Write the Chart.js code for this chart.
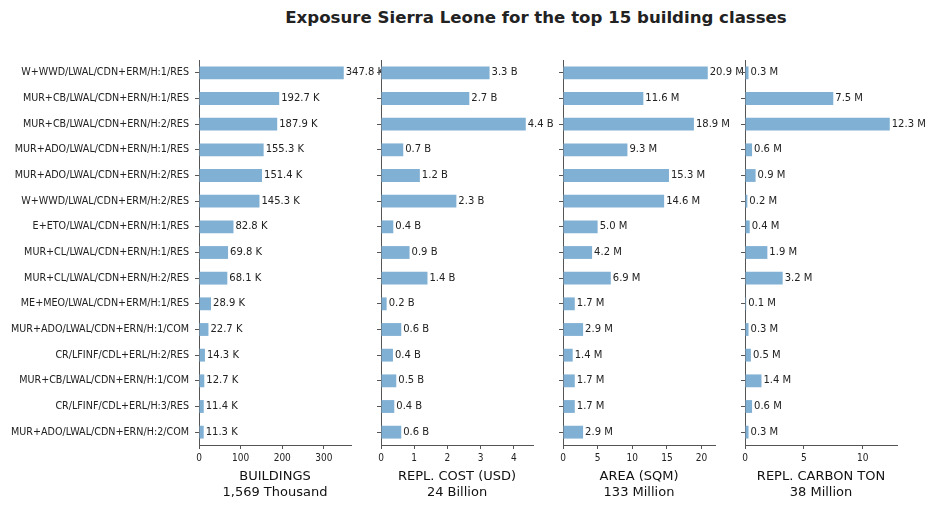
<!DOCTYPE html>
<html>
<head>
<meta charset="utf-8">
<script src="https://cdn.jsdelivr.net/npm/chart.js@4.4.1/dist/chart.umd.min.js"></script>
<style>
  body { margin: 0; background: #fff; }
  #wrap { position: relative; width: 933px; height: 510px; overflow: hidden; }
  #wrap canvas { position: absolute; left: 0; top: 0; }
  #titulo { position: absolute; top: 8px; left: 236px; width: 600px; text-align: center;
            font: bold 16.6px "DejaVu Sans", sans-serif; color: #222; white-space: nowrap; }
</style>
</head>
<body>
<div id="wrap">
  <div id="titulo">Exposure Sierra Leone for the top 15 building classes</div>
</div>
<script>
const classes = [
  "W+WWD/LWAL/CDN+ERM/H:1/RES",
  "MUR+CB/LWAL/CDN+ERN/H:1/RES",
  "MUR+CB/LWAL/CDN+ERN/H:2/RES",
  "MUR+ADO/LWAL/CDN+ERN/H:1/RES",
  "MUR+ADO/LWAL/CDN+ERN/H:2/RES",
  "W+WWD/LWAL/CDN+ERM/H:2/RES",
  "E+ETO/LWAL/CDN+ERN/H:1/RES",
  "MUR+CL/LWAL/CDN+ERN/H:1/RES",
  "MUR+CL/LWAL/CDN+ERN/H:2/RES",
  "ME+MEO/LWAL/CDN+ERM/H:1/RES",
  "MUR+ADO/LWAL/CDN+ERN/H:1/COM",
  "CR/LFINF/CDL+ERL/H:2/RES",
  "MUR+CB/LWAL/CDN+ERN/H:1/COM",
  "CR/LFINF/CDL+ERL/H:3/RES",
  "MUR+ADO/LWAL/CDN+ERN/H:2/COM"
];

// milhares de edificios
const buildings = [347.8, 192.7, 187.9, 155.3, 151.4, 145.3, 82.8, 69.8, 68.1, 28.9, 22.7, 14.3, 12.7, 11.4, 11.3];
// bilhoes de USD
const cost = [3.27, 2.66, 4.36, 0.67, 1.17, 2.27, 0.37, 0.86, 1.40, 0.17, 0.61, 0.36, 0.46, 0.40, 0.61];
// milhoes de m2
const area = [20.9, 11.6, 18.9, 9.3, 15.3, 14.6, 5.0, 4.2, 6.9, 1.7, 2.9, 1.4, 1.7, 1.7, 2.9];
// milhoes de toneladas
const carbon = [0.3, 7.5, 12.3, 0.6, 0.9, 0.2, 0.4, 1.9, 3.2, 0.1, 0.3, 0.5, 1.4, 0.6, 0.3];

const buildingTicks = [0, 100, 200, 300];
const costTicks = [0, 1, 2, 3, 4];
const areaTicks = [0, 5, 10, 15, 20];
const carbonTicks = [0, 5, 10];

const titulos = [
  ["BUILDINGS", "1,569 Thousand"],
  ["REPL. COST (USD)", "24 Billion"],
  ["AREA (SQM)", "133 Million"],
  ["REPL. CARBON TON", "38 Million"]
];
const unidades = ["K", "B", "M", "M"];

const corBarra = "#80b0d4";
const corEixo = "#555";
const corTexto = "#222";
const fonteTick = '"DejaVu Sans Condensed", "Liberation Sans Narrow", "DejaVu Sans", sans-serif';

const rotulos = {
  id: "rotulos",
  afterDatasetsDraw(chart, args, opts) {
    const ctx = chart.ctx;
    const meta = chart.getDatasetMeta(0);
    const valores = chart.data.datasets[0].data;
    ctx.save();
    ctx.font = '10px "DejaVu Sans", sans-serif';
    ctx.fillStyle = corTexto;
    ctx.textBaseline = "middle";
    ctx.textAlign = "left";
    meta.data.forEach((bar, i) => {
      ctx.fillText(valores[i].toFixed(1) + " " + opts.unidade, bar.x + 2, bar.y);
    });
    ctx.restore();
  }
};

function criarPainel(idx, valores, ticks) {
  const L = 199 + 182 * idx;
  const larguraY = idx === 0 ? 199 : 12;
  const canvas = document.createElement("canvas");
  canvas.width = 933;
  canvas.height = 510;
  canvas.style.width = "933px";
  canvas.style.height = "510px";
  document.getElementById("wrap").appendChild(canvas);

  new Chart(canvas.getContext("2d"), {
    type: "bar",
    data: {
      labels: classes,
      datasets: [{
        data: valores,
        backgroundColor: corBarra,
        barPercentage: 0.5,
        categoryPercentage: 1
      }]
    },
    options: {
      indexAxis: "y",
      responsive: false,
      animation: false,
      events: [],
      layout: { padding: { left: L - larguraY, right: 933 - (L + 152), top: 60, bottom: 0 } },
      plugins: {
        legend: { display: false },
        tooltip: { enabled: false },
        rotulos: { unidade: unidades[idx] }
      },
      scales: {
        x: {
          type: "linear",
          min: 0,
          max: Math.max(...valores) * 1.05,
          afterBuildTicks: s => { s.ticks = ticks.map(v => ({ value: v })); },
          afterFit: s => { s.height = 65; },
          grid: { drawOnChartArea: false, tickLength: 4, color: corEixo, tickColor: corEixo },
          border: { color: corEixo, width: 1 },
          ticks: { font: { size: 10, family: fonteTick }, color: corTexto, padding: 3, maxRotation: 0 },
          title: {
            display: true,
            text: titulos[idx],
            color: "#111",
            font: { size: 13, family: '"DejaVu Sans", sans-serif', lineHeight: "16px" },
            padding: { top: 0, bottom: 9 }
          }
        },
        y: {
          afterFit: s => { s.width = larguraY; },
          grid: { drawOnChartArea: false, tickLength: 4, offset: false, color: corEixo, tickColor: corEixo },
          border: { color: corEixo, width: 1 },
          ticks: { display: idx === 0, font: { size: 9.6, family: '"DejaVu Sans", sans-serif' }, color: corTexto, padding: 6 }
        }
      }
    },
    plugins: [rotulos]
  });
}

criarPainel(0, buildings, buildingTicks);
criarPainel(1, cost, costTicks);
criarPainel(2, area, areaTicks);
criarPainel(3, carbon, carbonTicks);
</script>
</body>
</html>
